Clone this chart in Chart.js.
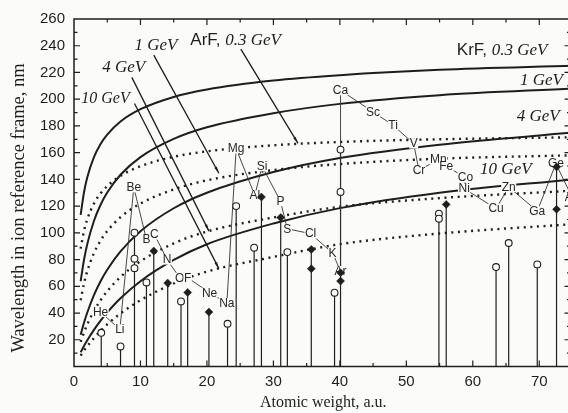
<!DOCTYPE html>
<html>
<head>
<meta charset="utf-8">
<script src="https://cdn.jsdelivr.net/npm/chart.js@4.4.0/dist/chart.umd.min.js"></script>
<style>
  html, body { margin: 0; padding: 0; background: #fbfbf9; overflow: hidden; }
  #wrap { position: relative; width: 590px; height: 413px; }
</style>
</head>
<body>
<div id="wrap"><canvas id="myChart"></canvas></div>
<script>
// atomic weights the curves were read at
const curveA = [1, 1.5, 2, 3, 4, 5, 7, 10, 15, 20, 30, 40, 55, 75];
// KrF laser, solid curves
const krf03 = [113.4, 130.2, 141.6, 156.7, 166.5, 173.5, 183.3, 192.5, 201.7, 207.3, 214.0, 218.0, 222.0, 225.0];
const krf1  = [63.8, 79.7, 91.7, 108.9, 121.0, 130.2, 143.5, 156.7, 170.3, 179.0, 189.5, 196.5, 203.0, 208.0];
const krf4  = [23.7, 32.7, 40.4, 53.4, 63.8, 72.4, 86.1, 101.2, 118.4, 130.0, 145.5, 156.0, 166.0, 175.0];
const krf10 = [10.6, 15.3, 19.6, 27.4, 34.3, 40.4, 51.0, 63.8, 79.7, 91.5, 107.0, 118.5, 130.0, 140.0];
// ArF laser, dotted curves
const arf03 = [88.2, 101.3, 110.2, 121.9, 129.5, 135.0, 142.7, 149.8, 156.9, 161.0, 165.5, 168.0, 170.0, 171.5];
const arf1  = [49.6, 62.1, 71.4, 84.8, 94.2, 101.3, 111.7, 121.9, 132.5, 139.3, 147.0, 151.5, 155.5, 158.0];
const arf4  = [18.4, 25.4, 31.5, 41.5, 49.6, 56.3, 67.0, 78.7, 92.1, 101.0, 111.5, 119.5, 126.0, 131.5];
const arf10 = [8.2, 11.9, 15.2, 21.3, 26.7, 31.5, 39.7, 49.6, 62.1, 71.0, 82.0, 91.5, 99.5, 106.5];

// element labels, joined in order
const elemNames = ['He','Li','Be','B','C','N','O','F','Ne','Na','Mg','Al','Si','P','S','Cl','K','Ar','Ca','Sc','Ti','V','Cr','Mn','Fe','Co','Ni','Cu','Zn','Ga','Ge','As'];
const elemA = [4.0, 6.9, 9.0, 10.9, 12.1, 14.0, 15.9, 17.1, 20.4, 23.0, 24.4, 27.2, 28.3, 31.05, 32.1, 35.6, 38.9, 40.1, 40.1, 45.0, 48.0, 51.1, 51.9, 54.8, 56.0, 58.9, 58.7, 63.5, 65.4, 69.7, 72.5, 74.9];
const elemL = [40.7, 27.7, 134, 95, 98.7, 80, 66.4, 66.4, 55.2, 47.4, 163, 128, 149.8, 123.8, 103, 99.4, 84.9, 71.4, 206.7, 190.5, 180.5, 166.8, 146.8, 154.8, 149.8, 141.3, 133.1, 118.1, 134.3, 116.3, 151.8, 127];

// vertical stems
const stemA   = [4.1, 7.0, 9.1, 10.9, 12.0, 14.1, 16.1, 17.1, 20.3, 23.1, 24.4, 27.1, 28.2, 31.1, 32.1, 35.7, 39.2, 40.1, 54.9, 56.0, 63.5, 65.4, 69.7, 72.6];
const stemTop = [25.2, 15, 100.1, 62.9, 86.4, 62.4, 48.7, 55.4, 40.7, 32, 120, 88.9, 126.8, 111.4, 85.6, 87.6, 55.2, 162.3, 114.4, 121.3, 74.4, 92.4, 76.4, 149.3];

// open circles
const openA = [4.1, 7.0, 9.1, 9.1, 9.1, 10.9, 16.1, 23.1, 24.4, 27.1, 32.1, 39.2, 40.1, 40.1, 54.9, 54.9, 63.5, 65.4, 69.7];
const openL = [25.2, 15, 100.1, 80.7, 73.6, 62.9, 48.7, 32, 120, 88.9, 85.6, 55.2, 162.3, 130.6, 114.4, 110.6, 74.4, 92.4, 76.4];
// filled diamonds
const fillA = [12.0, 14.1, 17.1, 20.3, 28.2, 31.1, 35.7, 35.7, 40.1, 40.1, 56.0, 72.6, 72.6];
const fillL = [86.4, 62.4, 55.4, 40.7, 126.8, 111.4, 87.6, 73.2, 70.2, 63.9, 121.3, 149.3, 117.6];

// leader lines from the ArF labels to their curves
const leaderFrom = [[25.1, 237.5], [12.0, 233], [8.7, 216.3], [9.1, 196.8]];
const leaderTo   = [[33.7, 167.0], [21.8, 144.6], [20.3, 101.3], [21.8, 73.2]];

const xTickLabels = [0, 10, 20, 30, 40, 50, 60, 70];
const yTickLabels = [20, 40, 60, 80, 100, 120, 140, 160, 180, 200, 220, 240, 260];

const sans = '"Liberation Sans", Arial, sans-serif';
const serif = '"Liberation Serif", "Times New Roman", serif';
const ink = '#1e1e1e';
const paper = '#fbfbf9';

const pts = (xs, ys) => xs.map((x, i) => ({ x: x, y: ys[i] }));

function curve(vals, dotted) {
  return {
    data: pts(curveA, vals),
    borderColor: ink,
    borderWidth: dotted ? 2.4 : 2,
    borderDash: dotted ? [2, 4.6] : [],
    cubicInterpolationMode: 'monotone',
    pointRadius: 0,
    order: 5
  };
}

const stemData = [];
stemA.forEach((a, i) => {
  stemData.push({ x: a, y: 0 }, { x: a, y: stemTop[i] }, { x: a, y: null });
});
const leaderData = [];
leaderFrom.forEach((p, i) => {
  leaderData.push({ x: p[0], y: p[1] }, { x: leaderTo[i][0], y: leaderTo[i][1] }, { x: p[0], y: null });
});

const datasets = [
  curve(krf03), curve(krf1), curve(krf4), curve(krf10),
  curve(arf03, true), curve(arf1, true), curve(arf4, true), curve(arf10, true),
  { data: stemData, borderColor: ink, borderWidth: 1.2, pointRadius: 0, spanGaps: false, order: 4 },
  { data: leaderData, borderColor: ink, borderWidth: 1.3, pointRadius: 0, spanGaps: false, order: 4 },
  { data: pts(elemA, elemL), borderColor: '#333', borderWidth: 0.9, pointRadius: 0, order: 2 },
  { data: pts(openA, openL), showLine: false, pointStyle: 'circle', pointRadius: 3.4,
    pointBackgroundColor: paper, pointBorderColor: ink, pointBorderWidth: 1.1, order: 0 },
  { data: pts(fillA, fillL), showLine: false, pointStyle: 'rectRot', pointRadius: 4,
    pointBackgroundColor: ink, pointBorderColor: ink, pointBorderWidth: 0.5, order: 0 }
];
const elemIndex = 10;
const leaderIndex = 9;

function rich(ctx, x, y, parts) {
  ctx.textBaseline = 'middle';
  ctx.textAlign = 'left';
  parts.forEach(p => {
    ctx.font = p[1];
    ctx.fillText(p[0], x, y);
    x += ctx.measureText(p[0]).width;
  });
}

const decor = {
  id: 'decor',
  afterDatasetDraw(chart, args) {
    const { ctx, scales: { x, y } } = chart;
    if (args.index === elemIndex) {
      ctx.save();
      ctx.font = '12px ' + sans;
      ctx.textAlign = 'center';
      ctx.textBaseline = 'middle';
      elemNames.forEach((n, i) => {
        const px = x.getPixelForValue(elemA[i]);
        const py = y.getPixelForValue(elemL[i]);
        const w = ctx.measureText(n).width;
        ctx.fillStyle = paper;
        ctx.fillRect(px - w / 2 - 0.5, py - 5, w + 1, 10);
        ctx.fillStyle = '#262626';
        ctx.fillText(n, px, py + 0.5);
      });
      ctx.restore();
    }
    if (args.index === leaderIndex) {
      ctx.save();
      ctx.fillStyle = ink;
      leaderFrom.forEach((p, i) => {
        const x0 = x.getPixelForValue(p[0]), y0 = y.getPixelForValue(p[1]);
        const x1 = x.getPixelForValue(leaderTo[i][0]), y1 = y.getPixelForValue(leaderTo[i][1]);
        const ang = Math.atan2(y1 - y0, x1 - x0);
        ctx.beginPath();
        ctx.moveTo(x1, y1);
        ctx.lineTo(x1 - 7 * Math.cos(ang - 0.2), y1 - 7 * Math.sin(ang - 0.2));
        ctx.lineTo(x1 - 7 * Math.cos(ang + 0.2), y1 - 7 * Math.sin(ang + 0.2));
        ctx.closePath();
        ctx.fill();
      });
      ctx.restore();
    }
  },
  afterDraw(chart) {
    const { ctx, chartArea: a, scales: { x, y } } = chart;
    ctx.save();
    ctx.strokeStyle = ink;
    ctx.lineWidth = 1.5;
    ctx.strokeRect(a.left, a.top, a.right - a.left, a.bottom - a.top);
    ctx.lineWidth = 1.2;
    ctx.beginPath();
    for (let v = 5; v < 75; v += 5) {
      const px = x.getPixelForValue(v);
      const len = v % 10 === 0 ? 6 : 3.5;
      ctx.moveTo(px, a.bottom); ctx.lineTo(px, a.bottom - len);
      ctx.moveTo(px, a.top); ctx.lineTo(px, a.top + len);
    }
    for (let v = 10; v < 260; v += 10) {
      const py = y.getPixelForValue(v);
      const len = v % 20 === 0 ? 6 : 3.5;
      ctx.moveTo(a.left, py); ctx.lineTo(a.left + len, py);
      ctx.moveTo(a.right, py); ctx.lineTo(a.right - len - 2, py);
    }
    ctx.stroke();

    ctx.fillStyle = ink;
    const X = v => x.getPixelForValue(v), Y = v => y.getPixelForValue(v);
    const it = 'italic 17px ' + serif, sf = '17px ' + sans;
    rich(ctx, X(17.5), Y(244), [['ArF, ', sf], ['0.3 GeV', it]]);
    rich(ctx, X(9.1), Y(240.2), [['1 GeV', it]]);
    rich(ctx, X(4.25), Y(224), [['4 GeV', it]]);
    rich(ctx, X(1.1), Y(200.3), [['10 GeV', 'italic 16px ' + serif]]);
    rich(ctx, X(57.6), Y(236.5), [['KrF, ', sf], ['0.3 GeV', it]]);
    rich(ctx, X(67.1), Y(214), [['1 GeV', it]]);
    rich(ctx, X(66.6), Y(186.7), [['4 GeV', it]]);
    rich(ctx, X(61.1), Y(147.3), [['10 GeV', it]]);

    ctx.textAlign = 'center';
    ctx.textBaseline = 'middle';
    ctx.font = '16px ' + serif;
    ctx.fillText('Atomic weight, a.u.', (a.left + a.right) / 2, 403);
    ctx.font = '18.5px ' + serif;
    ctx.translate(19, 208);
    ctx.rotate(-Math.PI / 2);
    ctx.fillText('Wavelength in ion reference frame, nm', 0, 0);
    ctx.restore();
  }
};

const ctx = document.getElementById('myChart');
new Chart(ctx, {
  type: 'line',
  data: { datasets: datasets },
  options: {
    responsive: true,
    maintainAspectRatio: false,
    animation: false,
    layout: { padding: { left: 0, right: 17.5, top: 19, bottom: 0 } },
    plugins: { legend: { display: false }, tooltip: { enabled: false } },
    scales: {
      x: {
        type: 'linear', min: 0, max: 75,
        afterFit(s) { s.height = 46.5; },
        afterBuildTicks(s) { s.ticks = xTickLabels.map(v => ({ value: v })); },
        grid: { display: false, drawTicks: false },
        border: { display: false },
        ticks: { color: ink, padding: 6, font: { family: sans, size: 15 } }
      },
      y: {
        type: 'linear', min: 0, max: 260,
        afterFit(s) { s.width = 74; },
        afterBuildTicks(s) { s.ticks = yTickLabels.map(v => ({ value: v })); },
        grid: { display: false, drawTicks: false },
        border: { display: false },
        ticks: { color: ink, padding: 9, font: { family: sans, size: 15 } }
      }
    }
  },
  plugins: [decor]
});
</script>
</body>
</html>
